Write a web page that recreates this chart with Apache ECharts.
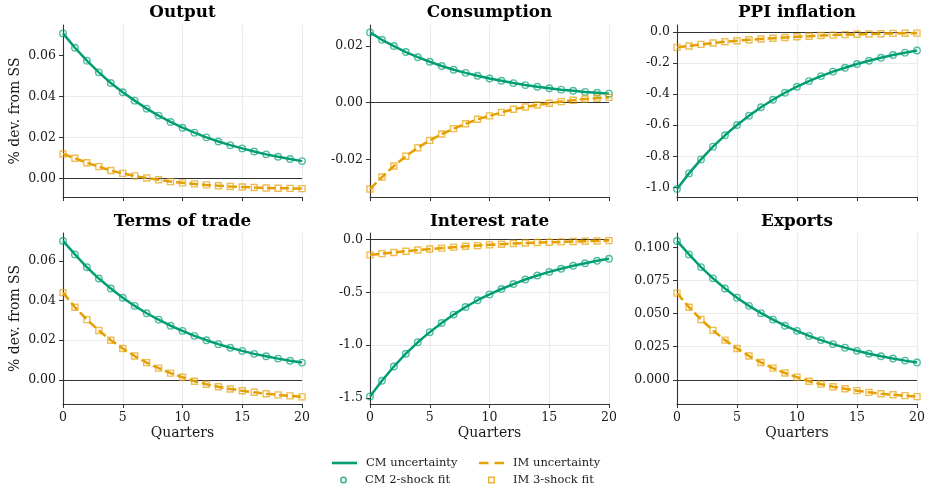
<!DOCTYPE html>
<html><head><meta charset="utf-8">
<script src="https://cdn.jsdelivr.net/npm/echarts@6/dist/echarts.min.js"></script>
<style>html,body{margin:0;padding:0;background:#fff}#c{width:926px;height:488px}</style>
</head><body><div id="c"></div>
<script>
// ---------------- data ----------------
const quarters = [0,1,2,3,4,5,6,7,8,9,10,11,12,13,14,15,16,17,18,19,20];

const outputCM = [0.0707,0.0637,0.0574,0.0517,0.0465,0.0420,0.0379,0.0340,0.0306,0.0275,0.0247,0.0223,0.0200,0.0180,0.0162,0.0146,0.0131,0.0117,0.0105,0.0094,0.0084];
const outputIM = [0.0119,0.0098,0.0076,0.0057,0.0038,0.0024,0.0012,0.0002,-0.0007,-0.0016,-0.0022,-0.0027,-0.0032,-0.0036,-0.0040,-0.0042,-0.0045,-0.0047,-0.0048,-0.0049,-0.0050];

const consCM = [0.0247,0.0221,0.0199,0.0178,0.0160,0.0144,0.0129,0.0116,0.0105,0.0095,0.0085,0.0077,0.0069,0.0062,0.0056,0.0051,0.0046,0.0042,0.0038,0.0035,0.0032];
const consIM = [-0.0303,-0.0261,-0.0222,-0.0188,-0.0158,-0.0132,-0.0110,-0.0091,-0.0074,-0.0058,-0.0046,-0.0034,-0.0023,-0.0015,-0.0008,-0.0002,0.0004,0.0009,0.0013,0.0016,0.0019];

const ppiCM = [-1.010,-0.910,-0.820,-0.738,-0.665,-0.599,-0.539,-0.484,-0.436,-0.391,-0.352,-0.316,-0.284,-0.255,-0.230,-0.206,-0.185,-0.166,-0.148,-0.133,-0.119];
const ppiIM = [-0.099,-0.090,-0.080,-0.071,-0.063,-0.056,-0.050,-0.045,-0.040,-0.035,-0.031,-0.027,-0.023,-0.020,-0.017,-0.015,-0.013,-0.011,-0.009,-0.008,-0.007];

const totCM = [0.0701,0.0633,0.0568,0.0511,0.0461,0.0414,0.0373,0.0336,0.0304,0.0273,0.0247,0.0222,0.0200,0.0180,0.0162,0.0146,0.0131,0.0119,0.0107,0.0096,0.0087];
const totIM = [0.0440,0.0366,0.0304,0.0249,0.0200,0.0158,0.0120,0.0087,0.0059,0.0034,0.0013,-0.0007,-0.0022,-0.0035,-0.0046,-0.0055,-0.0063,-0.0070,-0.0076,-0.0081,-0.0086];

const rateCM = [-1.484,-1.336,-1.201,-1.080,-0.972,-0.876,-0.789,-0.710,-0.638,-0.574,-0.519,-0.468,-0.421,-0.378,-0.340,-0.306,-0.276,-0.248,-0.224,-0.201,-0.182];
const rateIM = [-0.145,-0.133,-0.122,-0.110,-0.099,-0.090,-0.081,-0.072,-0.064,-0.057,-0.050,-0.044,-0.038,-0.033,-0.028,-0.025,-0.022,-0.019,-0.016,-0.013,-0.010];

const expCM = [0.1050,0.0948,0.0852,0.0767,0.0690,0.0621,0.0559,0.0504,0.0455,0.0409,0.0370,0.0332,0.0300,0.0270,0.0243,0.0219,0.0197,0.0178,0.0161,0.0145,0.0131];
const expIM = [0.0655,0.0549,0.0456,0.0374,0.0300,0.0237,0.0180,0.0131,0.0088,0.0051,0.0020,-0.0011,-0.0033,-0.0052,-0.0068,-0.0082,-0.0095,-0.0105,-0.0113,-0.0120,-0.0127];

// model fits (overlay the uncertainty responses)
const outputCMFit = [0.0707,0.0637,0.0574,0.0517,0.0465,0.0420,0.0379,0.0340,0.0306,0.0275,0.0247,0.0223,0.0200,0.0180,0.0162,0.0146,0.0131,0.0117,0.0105,0.0094,0.0084];
const outputIMFit = [0.0119,0.0098,0.0076,0.0057,0.0038,0.0024,0.0012,0.0002,-0.0007,-0.0016,-0.0022,-0.0027,-0.0032,-0.0036,-0.0040,-0.0042,-0.0045,-0.0047,-0.0048,-0.0049,-0.0050];
const consCMFit = [0.0247,0.0221,0.0199,0.0178,0.0160,0.0144,0.0129,0.0116,0.0105,0.0095,0.0085,0.0077,0.0069,0.0062,0.0056,0.0051,0.0046,0.0042,0.0038,0.0035,0.0032];
const consIMFit = [-0.0303,-0.0261,-0.0222,-0.0188,-0.0158,-0.0132,-0.0110,-0.0091,-0.0074,-0.0058,-0.0046,-0.0034,-0.0023,-0.0015,-0.0008,-0.0002,0.0004,0.0009,0.0013,0.0016,0.0019];
const ppiCMFit = [-1.010,-0.910,-0.820,-0.738,-0.665,-0.599,-0.539,-0.484,-0.436,-0.391,-0.352,-0.316,-0.284,-0.255,-0.230,-0.206,-0.185,-0.166,-0.148,-0.133,-0.119];
const ppiIMFit = [-0.099,-0.090,-0.080,-0.071,-0.063,-0.056,-0.050,-0.045,-0.040,-0.035,-0.031,-0.027,-0.023,-0.020,-0.017,-0.015,-0.013,-0.011,-0.009,-0.008,-0.007];
const totCMFit = [0.0701,0.0633,0.0568,0.0511,0.0461,0.0414,0.0373,0.0336,0.0304,0.0273,0.0247,0.0222,0.0200,0.0180,0.0162,0.0146,0.0131,0.0119,0.0107,0.0096,0.0087];
const totIMFit = [0.0440,0.0366,0.0304,0.0249,0.0200,0.0158,0.0120,0.0087,0.0059,0.0034,0.0013,-0.0007,-0.0022,-0.0035,-0.0046,-0.0055,-0.0063,-0.0070,-0.0076,-0.0081,-0.0086];
const rateCMFit = [-1.484,-1.336,-1.201,-1.080,-0.972,-0.876,-0.789,-0.710,-0.638,-0.574,-0.519,-0.468,-0.421,-0.378,-0.340,-0.306,-0.276,-0.248,-0.224,-0.201,-0.182];
const rateIMFit = [-0.145,-0.133,-0.122,-0.110,-0.099,-0.090,-0.081,-0.072,-0.064,-0.057,-0.050,-0.044,-0.038,-0.033,-0.028,-0.025,-0.022,-0.019,-0.016,-0.013,-0.010];
const expCMFit = [0.1050,0.0948,0.0852,0.0767,0.0690,0.0621,0.0559,0.0504,0.0455,0.0409,0.0370,0.0332,0.0300,0.0270,0.0243,0.0219,0.0197,0.0178,0.0161,0.0145,0.0131];
const expIMFit = [0.0655,0.0549,0.0456,0.0374,0.0300,0.0237,0.0180,0.0131,0.0088,0.0051,0.0020,-0.0011,-0.0033,-0.0052,-0.0068,-0.0082,-0.0095,-0.0105,-0.0113,-0.0120,-0.0127];

const panelTitles = ['Output','Consumption','PPI inflation','Terms of trade','Interest rate','Exports'];
const cmLines = [outputCM, consCM, ppiCM, totCM, rateCM, expCM];
const imLines = [outputIM, consIM, ppiIM, totIM, rateIM, expIM];
const cmFits = [outputCMFit, consCMFit, ppiCMFit, totCMFit, rateCMFit, expCMFit];
const imFits = [outputIMFit, consIMFit, ppiIMFit, totIMFit, rateIMFit, expIMFit];

const yTickValues = [
  [0, 0.02, 0.04, 0.06],
  [-0.02, 0, 0.02],
  [-1.0, -0.8, -0.6, -0.4, -0.2, 0.0],
  [0, 0.02, 0.04, 0.06],
  [-1.5, -1.0, -0.5, 0.0],
  [0, 0.025, 0.05, 0.075, 0.1]
];
const yDecimals = [2, 2, 1, 2, 1, 3];
const yMin = [-0.0091, -0.0331, -1.062, -0.0122, -1.556, -0.0183];
const yMax = [0.0748, 0.0273, 0.045, 0.0741, 0.062, 0.111];
const xTickValues = [0, 5, 10, 15, 20];

const seriesNames = ['CM uncertainty', 'IM uncertainty', 'CM 2-shock fit', 'IM 3-shock fit'];
const yAxisName = '% dev. from SS';
const xAxisName = 'Quarters';

// ---------------- layout/style ----------------
const GREEN = '#009E73', ORANGE = '#E69F00';
const FONT = 'DejaVu Serif';
const TXT = '#1a1a1a';
const AX = '#333333';
const GRIDC = '#ebebeb';

const gridBoxes = [
  {left: 63, top: 25, width: 239, height: 172},
  {left: 370, top: 25, width: 239, height: 172},
  {left: 677, top: 25, width: 240, height: 172},
  {left: 63, top: 233, width: 239, height: 171},
  {left: 370, top: 233, width: 239, height: 171},
  {left: 677, top: 233, width: 240, height: 171}
];

const pairs = arr => quarters.map((q, i) => [q, arr[i]]);

const grid = [], xAxis = [], yAxis = [], title = [], series = [];
for (let p = 0; p < 6; p++) {
  const g = gridBoxes[p];
  const bottomRow = p >= 3;
  const leftCol = p % 3 === 0;
  grid.push(Object.assign({containLabel: false, outerBoundsMode: 'none'}, g));
  title.push({
    text: panelTitles[p],
    left: g.left + g.width / 2,
    top: bottomRow ? 213 : 4,
    textAlign: 'center',
    padding: 0,
    textStyle: {fontFamily: FONT, fontWeight: 'bold', fontSize: 16.8, color: '#000'}
  });
  xAxis.push({
    type: 'value', gridIndex: p, min: 0, max: 20, interval: 5,
    name: bottomRow ? xAxisName : '',
    nameLocation: 'middle', nameGap: 22,
    nameTextStyle: {fontFamily: FONT, fontSize: 14, color: TXT},
    axisLine: {show: true, onZero: false, lineStyle: {color: AX, width: 1.1}},
    axisTick: {show: true, inside: false, length: 4, customValues: xTickValues, lineStyle: {color: AX, width: 1}},
    axisLabel: {show: bottomRow, margin: 7, customValues: xTickValues, fontFamily: FONT, fontSize: 12.5, color: TXT},
    splitLine: {show: true, lineStyle: {color: GRIDC, width: 1.2}}
  });
  const dec = yDecimals[p];
  const ticks = yTickValues[p];
  yAxis.push({
    type: 'value', gridIndex: p, min: yMin[p], max: yMax[p],
    minInterval: ticks[1] - ticks[0], maxInterval: ticks[1] - ticks[0],
    name: leftCol ? yAxisName : '',
    nameLocation: 'middle', nameGap: 41, nameRotate: 90,
    nameTextStyle: {fontFamily: FONT, fontSize: 14, color: TXT},
    axisLine: {show: true, onZero: false, lineStyle: {color: AX, width: 1.1}},
    axisTick: {show: true, inside: false, length: 4, customValues: ticks, lineStyle: {color: AX, width: 1}},
    axisLabel: {
      show: true, margin: 7, customValues: ticks,
      fontFamily: FONT, fontSize: 12.5, color: TXT,
      formatter: v => Number(v).toFixed(dec)
    },
    splitLine: {show: true, showMinLine: false, showMaxLine: false, lineStyle: {color: GRIDC, width: 1.2}}
  });

  series.push({
    name: seriesNames[1], type: 'line', xAxisIndex: p, yAxisIndex: p,
    data: pairs(imLines[p]), symbol: 'none', showSymbol: false, z: 3,
    lineStyle: {color: ORANGE, width: 2.5, type: [9, 4]},
    itemStyle: {color: ORANGE},
    markLine: {
      silent: true, symbol: ['none', 'none'], label: {show: false},
      lineStyle: {color: AX, width: 1, type: 'solid'},
      data: [{yAxis: 0}], z: 1, animation: false
    }
  });
  series.push({
    name: seriesNames[0], type: 'line', xAxisIndex: p, yAxisIndex: p,
    data: pairs(cmLines[p]), symbol: 'none', showSymbol: false, z: 3,
    lineStyle: {color: GREEN, width: 2.5, type: 'solid'},
    itemStyle: {color: GREEN}
  });
  series.push({
    name: seriesNames[2], type: 'scatter', xAxisIndex: p, yAxisIndex: p,
    data: pairs(cmFits[p]), symbol: 'circle', symbolSize: 6.5, z: 4,
    itemStyle: {color: 'rgba(255,255,255,0)', borderColor: 'rgba(0,158,115,0.85)', borderWidth: 1.4}
  });
  series.push({
    name: seriesNames[3], type: 'scatter', xAxisIndex: p, yAxisIndex: p,
    data: pairs(imFits[p]), symbol: 'rect', symbolSize: 6, z: 4,
    itemStyle: {color: 'rgba(255,255,255,0)', borderColor: 'rgba(230,159,0,0.85)', borderWidth: 1.4}
  });
}

const legendText = {fontFamily: FONT, fontSize: 11.5, color: TXT, padding: [0, 0, 0, 4]};
const solidIcon = 'path://M0 0H25V2.6H0Z';
const dashIcon = 'path://M0 0H9.5V2.6H0Z M15.5 0H25V2.6H15.5Z';
const legend = [
  {data: [{name: seriesNames[0], icon: solidIcon, itemStyle: {color: GREEN, borderWidth: 0}}],
   left: 332, top: 457, padding: 0, itemWidth: 25, itemHeight: 14, textStyle: legendText, selectedMode: false},
  {data: [{name: seriesNames[1], icon: dashIcon, itemStyle: {color: ORANGE, borderWidth: 0}}],
   left: 479, top: 457, padding: 0, itemWidth: 25, itemHeight: 14, textStyle: legendText, selectedMode: false},
  {data: [{name: seriesNames[2], icon: 'circle', itemStyle: {color: '#fff', borderColor: GREEN, borderWidth: 1.5}}],
   left: 340, top: 474, padding: 0, itemWidth: 25, itemHeight: 5.5, textStyle: legendText, selectedMode: false},
  {data: [{name: seriesNames[3], icon: 'path://M0 0H6V6H0Z', itemStyle: {color: '#fff', borderColor: ORANGE, borderWidth: 1.5}}],
   left: 488, top: 474, padding: 0, itemWidth: 25, itemHeight: 5.5, textStyle: legendText, selectedMode: false}
];

const chart = echarts.init(document.getElementById('c'), null, {renderer: 'canvas'});
chart.setOption({
  animation: false,
  backgroundColor: '#fff',
  textStyle: {fontFamily: FONT},
  title, grid, xAxis, yAxis, legend, series
});
</script></body></html>
